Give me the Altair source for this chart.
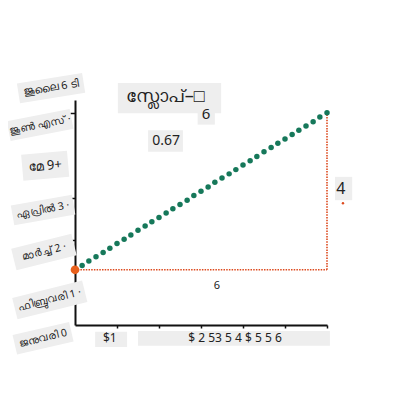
import math
import altair as alt
import pandas as pd

# ---------------- data ----------------
dot_x = [0.17, 0.33, 0.50, 0.67, 0.83, 1.00, 1.17, 1.33, 1.50, 1.67, 1.83, 2.00,
         2.17, 2.33, 2.50, 2.67, 2.83, 3.00, 3.17, 3.33, 3.50, 3.67, 3.83, 4.00,
         4.17, 4.33, 4.50, 4.67, 4.83, 5.00, 5.17, 5.33, 5.50, 5.67, 5.83, 6.00]
dot_y = [1.40, 1.51, 1.61, 1.71, 1.81, 1.92, 2.02, 2.12, 2.23, 2.33, 2.43, 2.53,
         2.64, 2.74, 2.84, 2.94, 3.05, 3.15, 3.25, 3.36, 3.46, 3.56, 3.66, 3.77,
         3.87, 3.97, 4.08, 4.18, 4.28, 4.38, 4.49, 4.59, 4.69, 4.79, 4.90, 5.00]
start_x, start_y = 0.0, 1.30
end_x, end_y = 6.0, 5.0

y_labels = ["ജനുവരി 0", "ഫിബ്രുവരി 1 ·", "മാർച്ച് 2 ·", "ഏപ്രിൽ 3 ·",
            "മേ 9+", "ജൂൺ എസ് ·", "ജൂലൈ 6 ടി"]
x_labels = ["$1", "$ 2 53 5 4 $ 5 5 6"]
slope_title = "സ്ലോപ്–□"
slope_den = "6"
slope_value = "0.67"
run_label = "6"
rise_label = "4"

# ---------------- placement (layout) ----------------
PX_X = 42.0    # px per x unit
PX_Y = 42.45   # px per y unit
ylab_cx = [-0.76, -0.60, -0.74, -0.76, -0.71, -0.83, -0.57]
ylab_cy = [-0.31, 0.59, 1.72, 2.71, 3.75, 4.71, 5.58]
ylab_ang = [13, 14, 14, 10, 5, 11, 9]
ylab_len = [58, 72, 62, 62, 46, 64, 66]
ylab_h = [20, 22, 22, 20, 26, 20, 20]
ylab_fs = [10.5, 10.5, 10.5, 10.5, 13, 10.5, 11]

rows = []
for lab, cx, cy, a, L, h, fs in zip(y_labels, ylab_cx, ylab_cy, ylab_ang, ylab_len, ylab_h, ylab_fs):
    r = math.radians(a)
    dx = (L / 2) * math.cos(r) / PX_X
    dy = (L / 2) * math.sin(r) / PX_Y
    rows.append(dict(label=lab, cx=cx, cy=cy, x1=cx - dx, y1=cy - dy,
                     x2=cx + dx, y2=cy + dy, angle=360 - a, h=h, fs=fs))
ylab_df = pd.DataFrame(rows)

xs = alt.Scale(domain=[0, 6], nice=False, zero=False)
ys = alt.Scale(domain=[0, 5.3], nice=False, zero=False)

FONT = "Noto Sans"
BOX = "#eeeeee"

# axes carrier
base = alt.Chart(pd.DataFrame({"x": [0, 6], "y": [0, 5.3]})).mark_point(opacity=0).encode(
    x=alt.X("x:Q", scale=xs, axis=alt.Axis(values=[1, 2, 3, 4, 5, 6], labels=False, title=None,
                                          grid=False, tickSize=3, tickColor="#111", tickWidth=1.5,
                                          domainColor="#111", domainWidth=2)),
    y=alt.Y("y:Q", scale=ys, axis=alt.Axis(values=[2, 3, 5], labels=False, title=None,
                                          grid=False, tickSize=5, tickColor="#111", tickWidth=1.5,
                                          domainColor="#111", domainWidth=2)),
)

# rotated label boxes (thick rules)
ybox_layers = []
for _, r in ylab_df.iterrows():
    ybox_layers.append(
        alt.Chart(pd.DataFrame([r])).mark_rule(color=BOX, strokeWidth=float(r["h"]), strokeCap="butt").encode(
            x=alt.X("x1:Q", scale=xs), x2="x2:Q",
            y=alt.Y("y1:Q", scale=ys), y2="y2:Q")
    )

ytext_layers = []
for _, r in ylab_df.iterrows():
    ytext_layers.append(
        alt.Chart(pd.DataFrame([r])).mark_text(font=FONT, fontSize=float(r["fs"]), color="#222",
                                               angle=float(r["angle"]), align="center",
                                               baseline="middle").encode(
            x=alt.X("cx:Q", scale=xs), y=alt.Y("cy:Q", scale=ys), text="label:N")
    )

# rectangular boxes: x labels and annotations
rect_df = pd.DataFrame({
    "x1": [0.48, 1.50, 1.02, 2.92, 1.74, 6.19],
    "x2": [1.24, 6.07, 3.48, 3.33, 2.57, 6.60],
    "y1": [-0.16, -0.14, 5.70, 5.20, 4.59, 3.49],
    "y2": [-0.52, -0.49, 4.99, 4.72, 4.08, 2.94],
})
rects = alt.Chart(rect_df).mark_rect(color=BOX).encode(
    x=alt.X("x1:Q", scale=xs), x2="x2:Q", y=alt.Y("y1:Q", scale=ys), y2="y2:Q")

xtext_df = pd.DataFrame({"t": x_labels, "x": [0.83, 3.81], "y": [-0.31, -0.31]})
xtexts = alt.Chart(xtext_df).mark_text(font=FONT, fontSize=12, color="#222").encode(
    x=alt.X("x:Q", scale=xs), y=alt.Y("y:Q", scale=ys), text="t:N")

# red dotted run/rise lines
RED = "#dd4a1e"
hline = alt.Chart(pd.DataFrame({"x": [start_x], "x2": [end_x], "y": [start_y]})).mark_rule(
    color=RED, strokeWidth=1.6, strokeDash=[1.5, 1.2]).encode(
    x=alt.X("x:Q", scale=xs), x2="x2:Q", y=alt.Y("y:Q", scale=ys))
vline = alt.Chart(pd.DataFrame({"x": [end_x], "y": [start_y], "y2": [end_y]})).mark_rule(
    color=RED, strokeWidth=1.6, strokeDash=[1.5, 1.2]).encode(
    x=alt.X("x:Q", scale=xs), y=alt.Y("y:Q", scale=ys), y2="y2:Q")

dots = alt.Chart(pd.DataFrame({"x": dot_x, "y": dot_y})).mark_circle(
    color="#16785a", size=30, opacity=1).encode(
    x=alt.X("x:Q", scale=xs), y=alt.Y("y:Q", scale=ys))

start_dot = alt.Chart(pd.DataFrame({"x": [start_x], "y": [start_y]})).mark_circle(
    color="#e8601c", size=75, opacity=1).encode(
    x=alt.X("x:Q", scale=xs), y=alt.Y("y:Q", scale=ys))

red_mark = alt.Chart(pd.DataFrame({"x": [6.38], "y": [2.87]})).mark_circle(
    color=RED, size=6, opacity=1).encode(
    x=alt.X("x:Q", scale=xs), y=alt.Y("y:Q", scale=ys))

ann_df = pd.DataFrame({
    "t": [slope_title, slope_den, slope_value, run_label, rise_label],
    "x": [2.15, 3.12, 2.17, 3.38, 6.33],
    "y": [5.36, 4.96, 4.33, 0.92, 3.20],
    "s": [18, 15, 14, 11, 16],
})
ann_layers = []
for _, r in ann_df.iterrows():
    ann_layers.append(
        alt.Chart(pd.DataFrame([r])).mark_text(font=FONT, fontSize=float(r["s"]), color="#222").encode(
            x=alt.X("x:Q", scale=xs), y=alt.Y("y:Q", scale=ys), text="t:N")
    )

chart = alt.layer(
    base, *ybox_layers, rects, *ytext_layers, xtexts, hline, vline, dots, start_dot,
    red_mark, *ann_layers
).properties(
    width=252, height=225,
    background="white",
    autosize=alt.AutoSizeParams(type="none"),
    padding={"left": 67, "top": 92, "right": 55, "bottom": 55},
).configure_view(stroke=None)

chart.save("out.html", embed_options={"renderer": "svg", "actions": False})
